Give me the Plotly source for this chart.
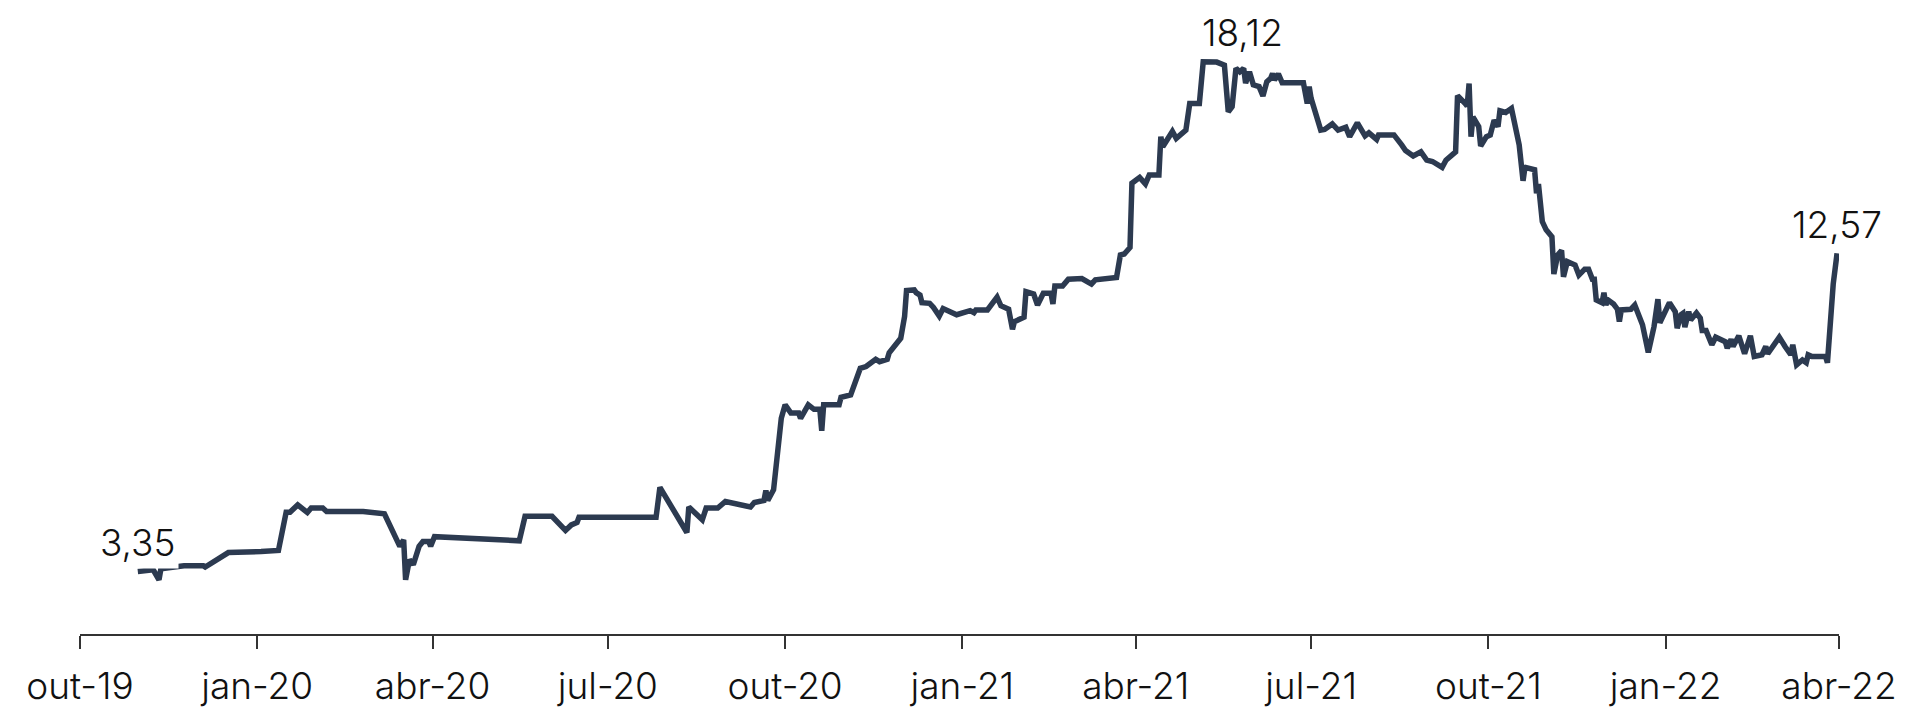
import plotly.graph_objects as go

# daily series (R$)
dates = [
    '2019-10-31', '2019-11-08', '2019-11-11', '2019-11-12', '2019-11-24', '2019-12-04', '2019-12-05',
    '2019-12-17', '2020-01-03', '2020-01-12', '2020-01-16', '2020-01-18', '2020-01-22', '2020-01-27',
    '2020-01-29', '2020-02-04', '2020-02-06', '2020-02-25', '2020-03-07', '2020-03-15', '2020-03-17',
    '2020-03-18', '2020-03-20', '2020-03-22', '2020-03-25', '2020-03-27', '2020-03-30', '2020-03-31',
    '2020-04-02', '2020-05-16', '2020-05-19', '2020-06-02', '2020-06-09', '2020-06-12', '2020-06-15',
    '2020-06-16', '2020-07-26', '2020-07-28', '2020-08-11', '2020-08-12', '2020-08-19', '2020-08-21',
    '2020-08-27', '2020-08-31', '2020-09-13', '2020-09-15', '2020-09-20', '2020-09-21', '2020-09-22',
    '2020-09-25', '2020-09-29', '2020-10-01', '2020-10-04', '2020-10-08', '2020-10-09', '2020-10-13',
    '2020-10-16', '2020-10-19', '2020-10-20', '2020-10-21', '2020-10-29', '2020-10-30', '2020-11-04',
    '2020-11-06', '2020-11-09', '2020-11-12', '2020-11-17', '2020-11-19', '2020-11-23', '2020-11-24',
    '2020-11-30', '2020-12-02', '2020-12-03', '2020-12-07', '2020-12-08', '2020-12-10', '2020-12-11',
    '2020-12-15', '2020-12-17', '2020-12-20', '2020-12-22', '2020-12-29', '2021-01-05', '2021-01-07',
    '2021-01-08', '2021-01-14', '2021-01-19', '2021-01-21', '2021-01-25', '2021-01-27', '2021-01-28',
    '2021-02-02', '2021-02-03', '2021-02-07', '2021-02-09', '2021-02-12', '2021-02-16', '2021-02-17',
    '2021-02-18', '2021-02-22', '2021-02-25', '2021-03-04', '2021-03-09', '2021-03-11', '2021-03-22',
    '2021-03-24', '2021-03-26', '2021-03-29', '2021-03-30', '2021-04-03', '2021-04-06', '2021-04-08',
    '2021-04-13', '2021-04-14', '2021-04-15', '2021-04-20', '2021-04-22', '2021-04-27', '2021-04-29',
    '2021-05-04', '2021-05-06', '2021-05-13', '2021-05-17', '2021-05-19', '2021-05-21', '2021-05-23',
    '2021-05-25', '2021-05-27', '2021-05-28', '2021-05-30', '2021-06-01', '2021-06-04', '2021-06-06',
    '2021-06-08', '2021-06-10', '2021-06-11', '2021-06-12', '2021-06-14', '2021-06-16', '2021-06-27',
    '2021-06-29', '2021-06-30', '2021-07-01', '2021-07-06', '2021-07-08', '2021-07-12', '2021-07-15',
    '2021-07-19', '2021-07-21', '2021-07-25', '2021-07-29', '2021-07-31', '2021-08-04', '2021-08-05',
    '2021-08-13', '2021-08-17', '2021-08-19', '2021-08-23', '2021-08-27', '2021-08-30', '2021-09-02',
    '2021-09-07', '2021-09-09', '2021-09-14', '2021-09-15', '2021-09-19', '2021-09-20', '2021-09-21',
    '2021-09-22', '2021-09-23', '2021-09-26', '2021-09-27', '2021-09-30', '2021-10-02', '2021-10-04',
    '2021-10-06', '2021-10-07', '2021-10-10', '2021-10-13', '2021-10-17', '2021-10-19', '2021-10-20',
    '2021-10-25', '2021-10-26', '2021-10-27', '2021-10-29', '2021-10-31', '2021-11-03', '2021-11-04',
    '2021-11-06', '2021-11-08', '2021-11-09', '2021-11-11', '2021-11-15', '2021-11-17', '2021-11-20',
    '2021-11-22', '2021-11-24', '2021-11-25', '2021-11-26', '2021-11-29', '2021-11-30', '2021-12-01',
    '2021-12-02', '2021-12-05', '2021-12-07', '2021-12-08', '2021-12-09', '2021-12-14', '2021-12-16',
    '2021-12-19', '2021-12-20', '2021-12-23', '2021-12-26', '2021-12-28', '2021-12-29', '2022-01-03',
    '2022-01-06', '2022-01-07', '2022-01-09', '2022-01-10', '2022-01-11', '2022-01-13', '2022-01-14',
    '2022-01-17', '2022-01-19', '2022-01-20', '2022-01-22', '2022-01-25', '2022-01-27', '2022-02-01',
    '2022-02-02', '2022-02-04', '2022-02-05', '2022-02-08', '2022-02-11', '2022-02-14', '2022-02-16',
    '2022-02-20', '2022-02-22', '2022-02-23', '2022-03-01', '2022-03-04', '2022-03-07', '2022-03-08',
    '2022-03-10', '2022-03-13', '2022-03-15', '2022-03-16', '2022-03-18', '2022-03-25', '2022-03-26',
    '2022-03-29', '2022-03-31',
]
prices = [
    3.35, 3.40, 3.11, 3.43, 3.52, 3.52, 3.48,
    3.90, 3.93, 3.96, 5.07, 5.07, 5.28, 5.06,
    5.19, 5.19, 5.09, 5.09, 5.02, 4.08, 4.27,
    3.11, 3.69, 3.55, 4.08, 4.22, 4.22, 4.08,
    4.36, 4.24, 4.95, 4.95, 4.54, 4.70, 4.77,
    4.92, 4.92, 5.79, 4.48, 5.22, 4.85, 5.19,
    5.19, 5.38, 5.22, 5.35, 5.41, 5.70, 5.41,
    5.72, 7.79, 8.18, 7.94, 7.94, 7.79, 8.18,
    8.05, 8.05, 7.43, 8.18, 8.18, 8.40, 8.47,
    8.83, 9.24, 9.29, 9.50, 9.43, 9.50, 9.69,
    10.11, 10.74, 11.49, 11.51, 11.43, 11.36, 11.14,
    11.12, 11.00, 10.75, 10.97, 10.79, 10.91, 10.85,
    10.93, 10.93, 11.30, 11.05, 10.95, 10.37, 10.59,
    10.72, 11.46, 11.39, 11.07, 11.41, 11.41, 11.10,
    11.62, 11.62, 11.82, 11.84, 11.68, 11.80, 11.87,
    12.52, 12.55, 12.74, 14.60, 14.77, 14.58, 14.84,
    14.84, 15.95, 15.66, 16.10, 15.90, 16.14, 16.91,
    16.91, 18.12, 18.11, 18.02, 16.67, 16.82, 17.93,
    17.83, 17.93, 17.50, 17.83, 17.45, 17.40, 17.13,
    17.54, 17.64, 17.78, 17.59, 17.77, 17.51, 17.51,
    16.91, 17.40, 17.06, 16.14, 16.16, 16.32, 16.14,
    16.22, 15.95, 16.35, 15.97, 16.06, 15.87, 16.00,
    16.00, 15.71, 15.55, 15.39, 15.51, 15.27, 15.23,
    15.06, 15.27, 15.51, 17.14, 16.91, 16.84, 17.49,
    15.95, 16.52, 16.24, 15.68, 15.95, 16.00, 16.43,
    16.24, 16.70, 16.65, 16.77, 15.71, 14.67, 15.06,
    14.99, 14.31, 14.58, 13.49, 13.25, 13.05, 11.97,
    12.52, 12.65, 11.89, 12.33, 12.23, 11.94, 12.11,
    12.11, 11.82, 11.82, 11.22, 11.14, 11.43, 11.07,
    11.22, 11.10, 10.95, 10.59, 10.93, 10.95, 11.07,
    10.62, 10.50, 9.70, 10.45, 11.24, 10.56, 11.14,
    10.88, 10.40, 10.79, 10.83, 10.43, 10.88, 10.64,
    10.84, 10.69, 10.33, 10.33, 9.92, 10.14, 10.01,
    9.82, 10.08, 9.87, 10.18, 9.66, 10.18, 9.58,
    9.63, 9.87, 9.66, 10.14, 9.87, 9.63, 9.92,
    9.34, 9.48, 9.40, 9.63, 9.58, 9.58, 9.40,
    11.68, 12.57,
]

tick_dates = ['2019-10-01', '2020-01-01', '2020-04-01', '2020-07-01', '2020-10-01', '2021-01-01',
              '2021-04-01', '2021-07-01', '2021-10-01', '2022-01-01', '2022-04-01']
tick_labels = ['out-19', 'jan-20', 'abr-20', 'jul-20', 'out-20', 'jan-21',
               'abr-21', 'jul-21', 'out-21', 'jan-22', 'abr-22']

# points with a value label: first, max, last
label_dates = ['2019-10-31', '2021-05-06', '2022-03-31']
label_values = [3.35, 18.12, 12.57]

line_color = '#2c3a50'
font_family = 'Inter, Roboto, sans-serif'
text_font = dict(family=font_family, size=37, color='#111111', weight=300)

fig = go.Figure(go.Scatter(
    x=dates, y=prices, mode='lines',
    line=dict(color=line_color, width=5.5),
    hoverinfo='skip',
))

xshifts = [0, 39, 0]
for d, v, dx in zip(label_dates, label_values, xshifts):
    fig.add_annotation(
        x=d, y=v, text=f'{v:.2f}'.replace('.', ','),
        showarrow=False, xanchor='center', yanchor='middle',
        xshift=dx, yshift=29,
        bgcolor='white', borderpad=3,
        font=text_font,
    )

# the page body adds an 8px offset, margins compensate for it
fig.update_layout(
    width=1920, height=725,
    margin=dict(l=72, r=89, t=12, b=99),
    plot_bgcolor='white', paper_bgcolor='white',
    showlegend=False,
    font=text_font,
    xaxis=dict(
        range=['2019-10-01', '2022-04-01'],
        tickvals=tick_dates, ticktext=tick_labels,
        showgrid=False, zeroline=False,
        showline=True, linecolor='#333333', linewidth=1.5,
        ticks='outside', ticklen=13, tickwidth=1.5, tickcolor='#333333',
        ticklabelstandoff=6,
        tickfont=text_font,
    ),
    yaxis=dict(
        range=[1.54, 19.33],
        visible=False, showgrid=False, zeroline=False,
    ),
)

fig.write_html('out.html')
